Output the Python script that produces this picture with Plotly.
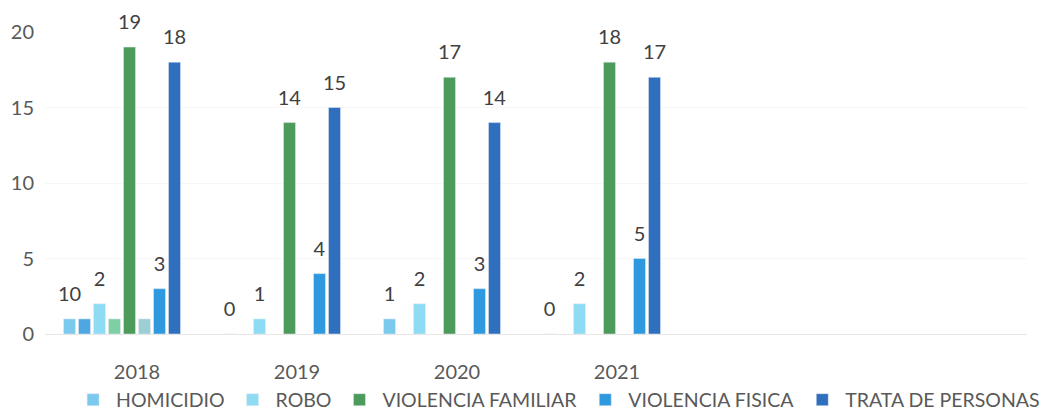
import plotly.graph_objects as go

years = ["2018", "2019", "2020", "2021"]

homicidio = [1, 0, 1, 0]
homicidio_labels = ["10", "0", "1", "0"]
extra_a = [1, None, None, None]
robo = [2, 1, 2, 2]
extra_b = [1, None, None, None]
violencia_familiar = [19, 14, 17, 18]
extra_c = [1, None, None, None]
violencia_fisica = [3, 4, 3, 5]
trata = [18, 15, 14, 17]
empty_slot = [None, None, None, None]

FONT = "Lato"
GREY = "#595959"

series = [
    ("HOMICIDIO", homicidio, "#7cc9ee", True, homicidio_labels),
    ("extra_a", extra_a, "#4ea6e2", False, None),
    ("ROBO", robo, "#8edcf3", True, [str(v) for v in robo]),
    ("extra_b", extra_b, "#7fcfa4", False, None),
    ("VIOLENCIA FAMILIAR", violencia_familiar, "#4c9b5a", True, [str(v) for v in violencia_familiar]),
    ("extra_c", extra_c, "#9ccfd3", False, None),
    ("VIOLENCIA FISICA", violencia_fisica, "#2f99df", True, [str(v) for v in violencia_fisica]),
    ("TRATA DE PERSONAS", trata, "#306fbd", True, [str(v) for v in trata]),
    ("empty1", empty_slot, "#ffffff", False, None),
    ("empty2", empty_slot, "#ffffff", False, None),
]

LABEL_TEMPLATE = ("<span style='font-size:20px'>%{text}</span><br>"
                  "<span style='color:rgba(255,255,255,0)'>.</span>")

fig = go.Figure()
for name, vals, color, show, labels in series:
    fig.add_trace(go.Bar(
        x=years, y=vals, name=name, marker_color=color, showlegend=show,
        text=labels if labels else None,
        texttemplate=LABEL_TEMPLATE if labels else None,
        textposition="outside" if labels else "none",
        constraintext="none",
        textfont=dict(family=FONT, size=10, color="#404040"),
        cliponaxis=False,
    ))

fig.update_layout(
    width=1041, height=409,
    margin=dict(l=37, r=22, t=24, b=83, autoexpand=False),
    barmode="group", bargap=0.0625, bargroupgap=0.2,
    plot_bgcolor="white", paper_bgcolor="white",
    font=dict(family=FONT, size=20, color=GREY),
    legend=dict(orientation="h", x=0.522, xanchor="center",
                y=-0.2185, yanchor="middle", itemwidth=36,
                font=dict(family=FONT, size=19.5, color=GREY),
                traceorder="normal"),
    xaxis=dict(type="category", range=[-0.575, 5.5625], showgrid=False,
               showline=True, linecolor="#e6e6e6", ticks="",
               tickvals=years, ticklabelstandoff=20,
               tickfont=dict(family=FONT, size=20, color=GREY)),
    yaxis=dict(range=[0, 20], dtick=5, showgrid=True, gridcolor="#f7f7f7",
               zeroline=False, ticks="", ticklabelstandoff=10,
               tickfont=dict(family=FONT, size=20, color=GREY)),
)

fig.write_html("out.html")
